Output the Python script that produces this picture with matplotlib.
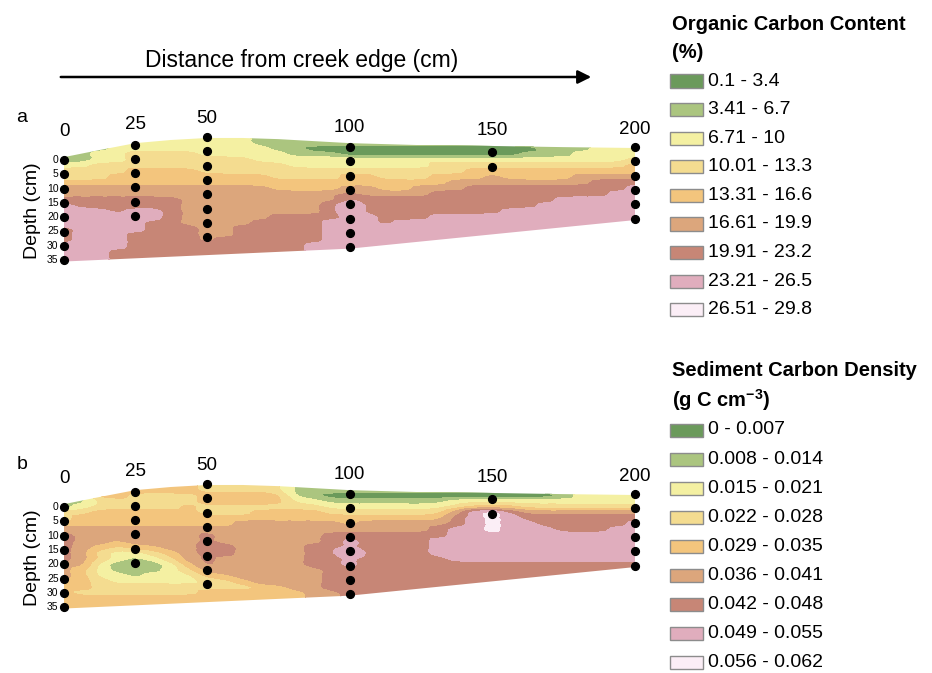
import numpy as np
import matplotlib
matplotlib.use("Agg")
import matplotlib.pyplot as plt
import matplotlib.tri as mtri
from matplotlib.patches import Polygon, Rectangle, FancyArrowPatch

plt.rcParams['font.family'] = ['Liberation Sans', 'DejaVu Sans']
plt.rcParams['mathtext.fontset'] = 'custom'
plt.rcParams['mathtext.rm'] = 'Liberation Sans'
plt.rcParams['mathtext.bf'] = 'Liberation Sans:bold'

# ---------------- data ----------------
# grid: distance (cm) and depth below creek-edge surface (cm)
grid_x = np.arange(0, 200.01, 6.25)      # 33 profiles
grid_z = np.arange(-10, 36.01, 2)        # 24 depths

# class index (0 = lowest class ... 8 = highest class) read per profile, top -> bottom
oc_cols = [
    "111111233455677776667777", "111111233455667777777777", "111122333455667777777777",
    "222222334455666777777666", "222233344455667777666666", "222233344455667766666666",
    "222233344455666666666666", "222233344455555556666666", "222223334455555555556666",
    "222223334455555555566666", "222223334455555556666666", "111222334455555566666666",
    "111122333445555666666666", "111112233445555666666666", "111012233445555666667777",
    "111012233445566677777777", "111002234456788777777777", "111002234455666777777777",
    "111002233445666667777777", "111002233445666677777777", "111002233455666677777777",
    "111002334456666777777777", "111002334556666777777777", "111002344566666777777777",
    "111002345566666777777777", "111002344566667777777777", "111012344566667777777777",
    "111112344566677777777777", "111112344566777777777777", "111122345566777777777777",
    "222222345666777777777777", "222222345667777777777777", "222223445677777777777777",
]
scd_cols = [
    "111111334566666555444444", "111112344555555544443444", "444433444555433222333444",
    "444433444554322112233444", "444333444555421011233444", "444333444555432112233444",
    "444333444555543222233444", "444334444555555432233444", "333443344566666654334444",
    "333443344555665554334444", "333443345555555555434444", "333443445555555555544444",
    "333443445555555555544444", "111123445555555555554444", "111123445555666655555555",
    "111012345566666666665555", "111012344567787766666666", "111012345566666666666666",
    "111012345566666666666666", "111012345566666666666666", "111012345566666666666666",
    "111012345667776666666666", "111023566777777666666666", "111024777777777666666666",
    "111024888877777666666666", "111024677777777666666666", "111023567777777666666666",
    "111023566777777666666666", "111123566677777666666666", "222223566677777666666666",
    "222223566677777666666666", "222223566777777666666666", "222223567777777666666666",
]

# transect outline
surface_x = [0, 12.5, 25, 37.5, 50, 62.5, 75, 87.5, 100, 125, 150, 175, 200]
surface_top = [-1.0, -3.5, -5.9, -7.0, -7.7, -7.7, -7.3, -6.6, -5.9, -5.2, -4.9, -4.5, -4.2]
bottom_x = [200, 100, 0]
bottom_z = [21.0, 31.0, 35.5]

# sediment cores
core_x = [0, 25, 50, 100, 150, 200]
core_top = [0, -5.4, -8.0, -4.5, -2.7, -4.5]
core_maxdepth = [35, 25, 35, 35, 5, 25]
core_labels = ['0', '25', '50', '100', '150', '200']
depth_ticks = [0, 5, 10, 15, 20, 25, 30, 35]

oc_labels = ['0.1 - 3.4', '3.41 - 6.7', '6.71 - 10', '10.01 - 13.3', '13.31 - 16.6',
             '16.61 - 19.9', '19.91 - 23.2', '23.21 - 26.5', '26.51 - 29.8']
scd_labels = ['0 - 0.007', '0.008 - 0.014', '0.015 - 0.021', '0.022 - 0.028', '0.029 - 0.035',
              '0.036 - 0.041', '0.042 - 0.048', '0.049 - 0.055', '0.056 - 0.062']
class_colors = ['#6b9a5b', '#abc57f', '#f4f0a2', '#f4dc90', '#f3c57d',
                '#dca67c', '#c78676', '#e0adbd', '#fbeef6']

# ---------------- layout ----------------
W, H = 932, 673
fig = plt.figure(figsize=(W / 100, H / 100), dpi=100)

PX_PER_CM_X = 2.855
PX_PER_CM_Z = 2.86
X0_PX = 64
DX = grid_x[1] - grid_x[0]
DZ = grid_z[1] - grid_z[0]


def fx(px):
    return px / W


def fy(py):
    return 1 - py / H


core_label_z = [-10.1, -12.5, -14.6, -11.5, -10.3, -10.5]

# triangulated grid in index space (two triangles per cell); the library's
# cubic refinement is used for smooth class boundaries
nx, nz = len(grid_x), len(grid_z)
II, JJ = np.meshgrid(np.arange(nx, dtype=float), np.arange(nz, dtype=float))
tris = []
for j in range(nz - 1):
    for i in range(nx - 1):
        a = j * nx + i
        tris.append([a, a + 1, a + nx + 1])
        tris.append([a, a + nx + 1, a + nx])
idx_tri = mtri.Triangulation(II.ravel(), JJ.ravel(), np.array(tris))
refiner = mtri.UniformTriRefiner(idx_tri)


def class_field(cols):
    V = np.array([[int(c) for c in col] for col in cols], dtype=float).T
    P = np.pad(V, ((0, 0), (1, 1)), mode='edge')
    return (P[:, :-2] + 3 * P[:, 1:-1] + P[:, 2:]) / 5.0


def draw_panel(top_px, zero_px, cols, letter):
    ax_left, ax_right = 0, 645
    ax_bottom = top_px + 175
    ax = fig.add_axes([fx(ax_left), fy(ax_bottom), fx(ax_right - ax_left), 175 / H])
    ax.set_xlim((ax_left - X0_PX) / PX_PER_CM_X, (ax_right - X0_PX) / PX_PER_CM_X)
    ax.set_ylim((ax_bottom - zero_px) / PX_PER_CM_Z, (top_px - zero_px) / PX_PER_CM_Z)
    ax.axis('off')

    V = class_field(cols).ravel()
    interp = mtri.CubicTriInterpolator(idx_tri, V, kind='geom')
    tri_f, v_f = refiner.refine_field(V, triinterpolator=interp, subdiv=3)
    tri_p = mtri.Triangulation(grid_x[0] + tri_f.x * DX, grid_z[0] + tri_f.y * DZ,
                               tri_f.triangles)
    cs = ax.tricontourf(tri_p, np.clip(v_f, 0, 8), levels=np.arange(-0.5, 9.0, 1.0),
                        colors=class_colors)
    cs.set_edgecolor('face')
    cs.set_linewidth(0.3)
    verts = list(zip(surface_x, surface_top)) + list(zip(bottom_x, bottom_z))
    clip = Polygon(verts, closed=True, transform=ax.transData, facecolor='none',
                   edgecolor='none')
    ax.add_patch(clip)
    cs.set_clip_path(clip)

    for x, t, md, lab, lz in zip(core_x, core_top, core_maxdepth, core_labels, core_label_z):
        d = np.arange(0, md + 1, 5)
        ax.plot(np.full(len(d), x), t + d, 'o', color='black', ms=5.6, zorder=5,
                clip_on=False)
        ax.text(x, lz, lab, ha='center', va='center', fontsize=13.5)

    for d in depth_ticks:
        ax.text(-1.9, d, str(d), ha='right', va='center', fontsize=7.5)
    ax.text(-11.2, 17.7, 'Depth (cm)', rotation=90, ha='center', va='center',
            fontsize=14)
    ax.text(-14.7, -14.7, letter, ha='center', va='center', fontsize=14)
    return ax


draw_panel(100, 160, oc_cols, 'a')
draw_panel(447, 507, scd_cols, 'b')

# distance arrow
fig.text(fx(302), fy(61), 'Distance from creek edge (cm)', ha='center', va='center',
         fontsize=16.5)
fig.add_artist(FancyArrowPatch(
    (fx(58), fy(77)), (fx(594), fy(77)), transform=fig.transFigure,
    arrowstyle='-|>', mutation_scale=20, lw=1.8, color='black'))


def draw_legend(title1, title2, labels, title_y, first_y, step):
    fig.text(fx(672), fy(title_y), title1, ha='left', va='center', fontsize=14.5,
             fontweight='bold')
    fig.text(fx(672), fy(title_y + 29), title2, ha='left', va='center', fontsize=14.5,
             fontweight='bold')
    for i, (lab, col) in enumerate(zip(labels, class_colors)):
        yc = first_y + step * i
        fig.add_artist(Rectangle((fx(670), fy(yc + 6.5)), 33 / W, 13 / H,
                                 transform=fig.transFigure, facecolor=col,
                                 edgecolor='#8c8c8c', lw=1.0))
        fig.text(fx(708), fy(yc), lab, ha='left', va='center', fontsize=14)


draw_legend('Organic Carbon Content', '(%)', oc_labels, 24, 81, 28.6)
draw_legend('Sediment Carbon Density', r'(g C cm$^{\mathbf{-3}}$)', scd_labels, 371, 430, 29.1)

fig.savefig('out.png', dpi=100)
